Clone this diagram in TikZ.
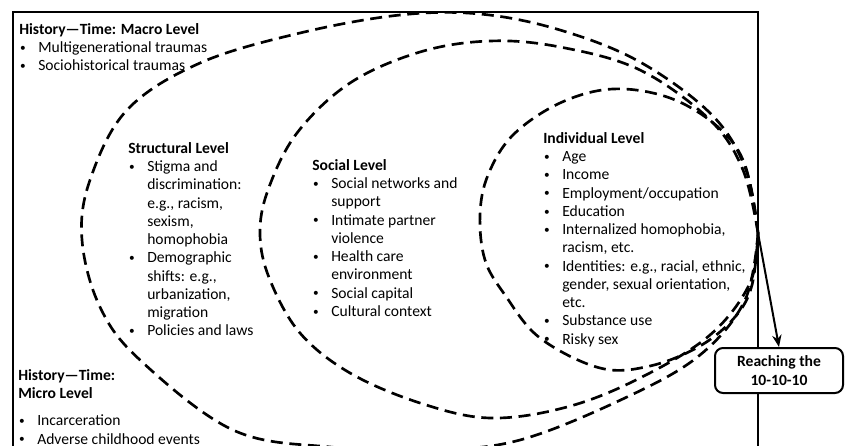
\documentclass[tikz,border=0pt]{standalone}
\usepackage{fontspec}
\setmainfont{Carlito}
\usetikzlibrary{arrows.meta, positioning}
\newcommand\bul{\makebox[14.25pt][l]{\hspace{0.6pt}\raisebox{0.9pt}{\fontsize{8.5}{8.5}\selectfont\textbullet}}}
\newcommand\ind{\hspace*{14.25pt}}

\begin{document}
\begin{tikzpicture}[
        x=0.75pt, y=-0.75pt,
        level/.style={anchor=north west, inner sep=0pt, align=left, font=\fontsize{11.7}{13.7}\selectfont},
        ring/.style={line width=2pt, dash pattern=on 9pt off 5pt, line join=round},
        goal/.style={rectangle, draw, fill=white, line width=1.5pt, rounded corners=6pt, minimum width=96pt, minimum height=33.75pt, align=center, font=\fontsize{11.7}{13.7}\selectfont\bfseries},
        arrow/.style={line width=1.5pt,->,>={Stealth[length=9pt,width=7pt]}}
    ]
        \useasboundingbox (0,0) rectangle (846,446);
        \draw [line width=1.5pt] (13,460) -- (13,12) -- (758,12) -- (758,460);

        \coordinate (tip) at (758,233);

        % the three levels, all meeting at the tip
        \draw [ring] plot [smooth, tension=0.6] coordinates {(tip) (746,170) (712,115) (640,62) (560,30) (480,14) (400,15) (300,33) (200,63) (127,110) (90,180) (82,240) (100,307) (140,360) (233,430) (330,447) (430,450) (520,440) (627,397) (700,355) (745,300) (tip)};
        \draw [ring] plot [smooth, tension=0.6] coordinates {(tip) (743,170) (710,120) (640,70) (560,47) (490,41) (420,52) (350,83) (297,133) (268,190) (260,235) (270,280) (300,333) (350,373) (420,403) (490,418) (567,407) (640,378) (710,335) (750,283) (tip)};
        \draw [ring] plot [smooth, tension=0.6] coordinates {(tip) (745,165) (718,127) (670,98) (613,89) (560,103) (513,135) (488,175) (480,215) (485,260) (505,295) (540,338) (600,368) (650,366) (700,346) (735,317) (752,285) (tip)};

        \node [level] (macro) at (19,23) {\textbf{History---Time: Macro Level}\\
            \bul Multigenerational traumas\\
            \bul Sociohistorical traumas};
        \node [level] (structural) at (128,142) {\textbf{Structural Level}\\
            \bul Stigma and\\ \ind discrimination:\\ \ind e.g., racism,\\ \ind sexism,\\ \ind homophobia\\
            \bul Demographic\\ \ind shifts: e.g.,\\ \ind urbanization,\\ \ind migration\\
            \bul Policies and laws};
        \node [level] (social) at (312,159) {\textbf{Social Level}\\
            \bul Social networks and\\ \ind support\\
            \bul Intimate partner\\ \ind violence\\
            \bul Health care\\ \ind environment\\
            \bul Social capital\\
            \bul Cultural context};
        \node [level] (individual) at (543,132) {\textbf{Individual Level}\\
            \bul Age\\
            \bul Income\\
            \bul Employment/occupation\\
            \bul Education\\
            \bul Internalized homophobia,\\ \ind racism, etc.\\
            \bul Identities: e.g., racial, ethnic,\\ \ind gender, sexual orientation,\\ \ind etc.\\
            \bul Substance use\\
            \bul Risky sex};
        \node [level] (micro) at (18,369) {\textbf{History---Time:}\\ \textbf{Micro Level}\\[6.75pt]
            \bul Incarceration\\
            \bul Adverse childhood events};

        \node [goal] (goal) at (779,370.5) {Reaching the\\10-10-10};

        \draw [arrow] (tip) -- (goal.north);
    \end{tikzpicture}
\end{document}
